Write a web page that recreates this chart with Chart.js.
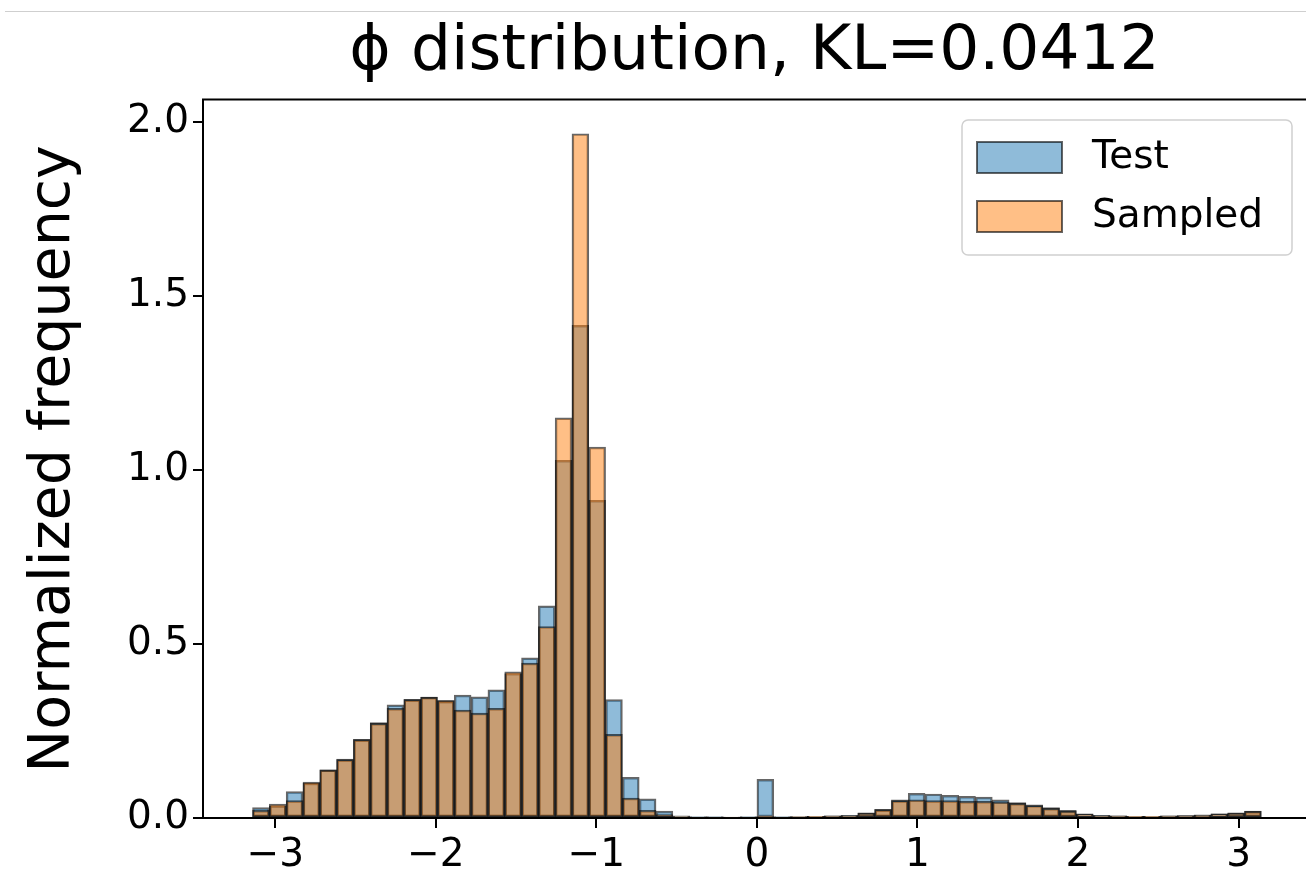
<!DOCTYPE html>
<html>
<head>
<meta charset="utf-8">
<script src="https://cdn.jsdelivr.net/npm/chart.js@4.4.0/dist/chart.umd.min.js"></script>
<style>
  html, body { margin: 0; padding: 0; background: #fff; overflow: hidden; }
  #wrap { position: relative; width: 1306px; height: 885px; }
  #topline { position: absolute; top: 11px; left: 5px; right: 0; height: 1px; background: #cfcfcf; }
</style>
</head>
<body>
<div id="wrap">
  <canvas id="histChart" width="1306" height="885"></canvas>
  <div id="topline"></div>
</div>
<script>
// histogram of phi over [-pi, pi], 60 bins
const binCount = 60;
const binLo = -Math.PI;
const binHi = Math.PI;

// normalized frequency per bin
const testValues = [
  0.030, 0.035, 0.076, 0.100, 0.138, 0.169, 0.226, 0.274, 0.325, 0.341,
  0.347, 0.335, 0.353, 0.348, 0.368, 0.415, 0.460, 0.609, 1.027, 1.415,
  0.912, 0.340, 0.117, 0.055, 0.020, 0.006, 0.004, 0.004, 0.003, 0.004,
  0.111, 0.004, 0.004, 0.005, 0.006, 0.008, 0.015, 0.025, 0.052, 0.071,
  0.069, 0.065, 0.062, 0.060, 0.052, 0.044, 0.038, 0.030, 0.022, 0.012,
  0.008, 0.006, 0.005, 0.005, 0.006, 0.007, 0.009, 0.012, 0.015, 0.020
];
const sampledValues = [
  0.022, 0.040, 0.050, 0.103, 0.138, 0.168, 0.225, 0.272, 0.315, 0.340,
  0.347, 0.338, 0.310, 0.301, 0.315, 0.420, 0.445, 0.550, 1.149, 1.965,
  1.065, 0.240, 0.057, 0.022, 0.010, 0.004, 0.003, 0.003, 0.003, 0.003,
  0.004, 0.003, 0.004, 0.005, 0.006, 0.007, 0.014, 0.024, 0.050, 0.052,
  0.050, 0.050, 0.048, 0.048, 0.046, 0.042, 0.036, 0.028, 0.020, 0.011,
  0.007, 0.006, 0.005, 0.005, 0.006, 0.007, 0.008, 0.012, 0.014, 0.019
];

const xTicks = [-3, -2, -1, 0, 1, 2, 3];
const yTicks = [0, 0.5, 1.0, 1.5, 2.0];

const binWidth = (binHi - binLo) / binCount;
const binCenters = [];
for (let i = 0; i < binCount; i++) binCenters.push(binLo + (i + 0.5) * binWidth);

const toPoints = vals => vals.map((v, i) => ({ x: binCenters[i], y: v }));

const FONT = "'DejaVu Sans', sans-serif";

// matplotlib-like frame: top spine + legend box
const framePlugin = {
  id: 'frame',
  afterDraw(chart) {
    const { ctx, chartArea } = chart;
    ctx.save();
    ctx.strokeStyle = '#000';
    ctx.lineWidth = 2;
    ctx.beginPath();
    ctx.moveTo(chartArea.left - 1, chartArea.top);
    ctx.lineTo(chartArea.right, chartArea.top);
    ctx.stroke();

    // legend
    const bx = 962, by = 120, bw = 330, bh = 135;
    ctx.fillStyle = 'rgba(255,255,255,0.8)';
    ctx.strokeStyle = '#d0d0d0';
    ctx.lineWidth = 1.5;
    ctx.beginPath();
    ctx.roundRect(bx, by, bw, bh, 6);
    ctx.fill();
    ctx.stroke();

    const sets = chart.data.datasets;
    ctx.font = '39px ' + FONT;
    ctx.textBaseline = 'middle';
    sets.forEach((ds, i) => {
      const ry = by + 22 + i * 59;
      ctx.fillStyle = '#fff';
      ctx.fillRect(977, ry, 85, 31);
      ctx.fillStyle = ds.backgroundColor;
      ctx.fillRect(977, ry, 85, 31);
      ctx.strokeStyle = ds.borderColor;
      ctx.lineWidth = 2;
      ctx.strokeRect(977, ry, 85, 31);
      ctx.fillStyle = '#000';
      ctx.fillText(ds.label, 1092, ry + 16);
    });
    ctx.restore();
  }
};

new Chart(document.getElementById('histChart').getContext('2d'), {
  type: 'bar',
  data: {
    datasets: [
      {
        label: 'Test',
        data: toPoints(testValues),
        backgroundColor: 'rgba(31, 119, 180, 0.5)',
        borderColor: 'rgba(0, 0, 0, 0.6)',
        borderWidth: 1.8,
        borderSkipped: false,
        grouped: false,
        order: 2,
        barPercentage: 1,
        categoryPercentage: 1
      },
      {
        label: 'Sampled',
        data: toPoints(sampledValues),
        backgroundColor: 'rgba(255, 127, 14, 0.5)',
        borderColor: 'rgba(0, 0, 0, 0.6)',
        borderWidth: 1.8,
        borderSkipped: false,
        grouped: false,
        order: 1,
        barPercentage: 1,
        categoryPercentage: 1
      }
    ]
  },
  options: {
    responsive: false,
    animation: false,
    devicePixelRatio: 1,
    layout: { padding: { left: 0, right: 0, top: 0, bottom: 0 } },
    plugins: {
      legend: { display: false },
      tooltip: { enabled: false },
      title: {
        display: true,
        fullSize: false,
        text: 'ϕ distribution, KL=0.0412',
        color: '#000',
        font: { family: FONT, size: 63, weight: 'normal', lineHeight: 1.2 },
        padding: { top: 15, bottom: 9 }
      }
    },
    scales: {
      x: {
        type: 'linear',
        min: -3.45,
        max: 3.42,
        offset: false,
        afterBuildTicks: s => { s.ticks = xTicks.map(v => ({ value: v })); },
        afterFit: s => { s.height = 67; },
        ticks: {
          color: '#000',
          font: { family: FONT, size: 39 },
          padding: 4,
          maxRotation: 0,
          callback: v => (v < 0 ? '\u2212' + Math.abs(v) : String(v))
        },
        grid: { drawOnChartArea: false, drawTicks: true, tickLength: 10, color: '#000', lineWidth: 2, offset: false },
        border: { display: true, color: '#000', width: 2 }
      },
      y: {
        min: 0,
        max: 2.063,
        afterBuildTicks: s => { s.ticks = yTicks.map(v => ({ value: v })); },
        afterFit: s => { s.width = 203; },
        ticks: {
          color: '#000',
          font: { family: FONT, size: 39 },
          padding: 4,
          callback: v => Number(v).toFixed(1)
        },
        grid: { drawOnChartArea: false, drawTicks: true, tickLength: 10, color: '#000', lineWidth: 2 },
        border: { display: true, color: '#000', width: 2 },
        title: {
          display: true,
          text: 'Normalized frequency',
          color: '#000',
          font: { family: FONT, size: 57, lineHeight: 1.2 },
          padding: { top: 20, bottom: 0 }
        }
      }
    }
  },
  plugins: [framePlugin]
});
</script>
</body>
</html>
